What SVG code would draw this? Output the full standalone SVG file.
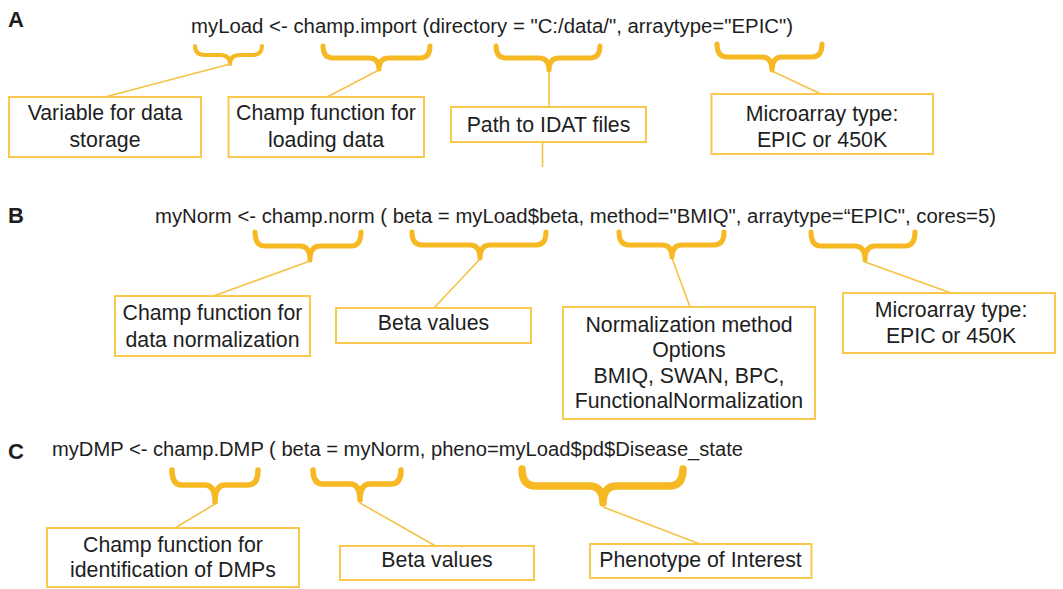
<svg xmlns="http://www.w3.org/2000/svg" width="1063" height="589" viewBox="0 0 1063 589">
<style>
text{font-family:"Liberation Sans",Arial,sans-serif;fill:#1e1e1e}
.code{font-size:20px}
.lbl{font-size:21.3px;text-anchor:middle}
.tag{font-size:22px;font-weight:bold}
.box{fill:#fff;stroke:#F8C94C;stroke-width:2}
.brace{fill:none;stroke:#F6B923;stroke-width:5;stroke-linecap:round;stroke-linejoin:round}
.conn line{stroke:#F5C344;stroke-width:1.6}
</style>
<rect width="1063" height="589" fill="#fff"/>
<g id="labels">
<text class="tag" x="8" y="27">A</text>
<text class="tag" x="8" y="223">B</text>
<text class="tag" x="8" y="459">C</text>
</g>
<g id="code">
<text class="code" x="191" y="33" textLength="602" lengthAdjust="spacingAndGlyphs">myLoad &lt;- champ.import (directory = "C:/data/", arraytype="EPIC")</text>
<text class="code" x="155" y="223" textLength="841" lengthAdjust="spacingAndGlyphs">myNorm &lt;- champ.norm ( beta = myLoad$beta, method="BMIQ", arraytype=“EPIC", cores=5)</text>
<text class="code" x="52" y="456" textLength="691" lengthAdjust="spacingAndGlyphs">myDMP &lt;- champ.DMP ( beta = myNorm, pheno=myLoad$pd$Disease_state</text>
</g>
<g id="braces">
<path class="brace" style="stroke-width:4" d="M195,46 Q195,55 205,55 L220,55 Q230,55 230,64 Q230,55 240,55 L252,55 Q262,55 262,46"/>
<path class="brace" d="M323,46 Q323,58 333,58 L369,58 Q379,58 379,69 Q379,58 389,58 L420,58 Q430,58 430,46"/>
<path class="brace" d="M496,46 Q496,58 506,58 L539,58 Q549,58 549,70 Q549,58 559,58 L590,58 Q600,58 600,46"/>
<path class="brace" d="M717,44 Q717,57 727,57 L762,57 Q772,57 772,70 Q772,57 782,57 L812,57 Q822,57 822,44"/>
<path class="brace" d="M255,232 Q255,246 265,246 L300,246 Q310,246 310,260 Q310,246 320,246 L351,246 Q361,246 361,232"/>
<path class="brace" d="M412,232 Q412,245 422,245 L470,245 Q480,245 480,258 Q480,245 490,245 L536,245 Q546,245 546,232"/>
<path class="brace" d="M619,232 Q619,245 629,245 L662,245 Q672,245 672,257 Q672,245 682,245 L714,245 Q724,245 724,232"/>
<path class="brace" d="M811,232 Q811,246 821,246 L855,246 Q865,246 865,260 Q865,246 875,246 L905,246 Q915,246 915,232"/>
<path class="brace" style="stroke-width:5.5" d="M172,470 Q172,485 182,485 L205,485 Q215,485 215,502 Q215,485 225,485 L248,485 Q258,485 258,470"/>
<path class="brace" style="stroke-width:5.5" d="M313,470 Q313,484 323,484 L350,484 Q360,484 360,500 Q360,484 370,484 L391,484 Q401,484 401,470"/>
<path class="brace" style="stroke-width:7.5" d="M522,469 Q522,486 536,486 L589,486 Q603,486 603,503 Q603,486 617,486 L669,486 Q683,486 683,469"/>
</g>
<g class="conn" id="connectors">
<line x1="230" y1="64" x2="105" y2="97"/>
<line x1="379" y1="70" x2="327" y2="97"/>
<line x1="549" y1="71" x2="549" y2="107"/>
<line x1="542.5" y1="130" x2="542.5" y2="167"/>
<line x1="772" y1="71" x2="821" y2="94"/>
<line x1="310" y1="261" x2="213.5" y2="296"/>
<line x1="480" y1="259" x2="434" y2="308"/>
<line x1="672" y1="258" x2="690" y2="307"/>
<line x1="865" y1="262" x2="951" y2="293"/>
<line x1="215" y1="504" x2="175" y2="528"/>
<line x1="360" y1="503" x2="435.6" y2="546"/>
<line x1="603" y1="507" x2="700" y2="544"/>
</g>
<g id="nodeA1"><rect class="box" x="9" y="97" width="192" height="60"/><text class="lbl" x="105" y="120">Variable for data</text><text class="lbl" x="105" y="146.5">storage</text></g>
<g id="nodeA2"><rect class="box" x="228.5" y="97" width="195.5" height="60"/><text class="lbl" x="326" y="120">Champ function for</text><text class="lbl" x="326" y="146.5">loading data</text></g>
<g id="nodeA3"><rect class="box" x="451" y="107" width="195" height="35"/><text class="lbl" x="548.5" y="131.5">Path to IDAT files</text></g>
<g id="nodeA4"><rect class="box" x="711.5" y="94" width="221.5" height="60"/><text class="lbl" x="822" y="120.5">Microarray type:</text><text class="lbl" x="822" y="146.5">EPIC or 450K</text></g>
<g id="nodeB1"><rect class="box" x="115" y="296" width="195" height="60"/><text class="lbl" x="212.5" y="320">Champ function for</text><text class="lbl" x="212.5" y="346.5">data normalization</text></g>
<g id="nodeB2"><rect class="box" x="336" y="308" width="195" height="35"/><text class="lbl" x="433.5" y="330">Beta values</text></g>
<g id="nodeB3"><rect class="box" x="563" y="307" width="252" height="112"/><text class="lbl" x="689" y="331.5">Normalization method</text><text class="lbl" x="689" y="356.5">Options</text><text class="lbl" x="689" y="382.5">BMIQ, SWAN, BPC,</text><text class="lbl" x="689" y="408">FunctionalNormalization</text></g>
<g id="nodeB4"><rect class="box" x="843" y="293" width="212" height="60"/><text class="lbl" x="951" y="316.5">Microarray type:</text><text class="lbl" x="951" y="342.5">EPIC or 450K</text></g>
<g id="nodeC1"><rect class="box" x="47" y="528" width="252" height="59"/><text class="lbl" x="173" y="552">Champ function for</text><text class="lbl" x="173" y="577">identification of DMPs</text></g>
<g id="nodeC2"><rect class="box" x="340" y="546" width="194" height="34"/><text class="lbl" x="437" y="567">Beta values</text></g>
<g id="nodeC3"><rect class="box" x="590" y="544" width="221.5" height="34"/><text class="lbl" x="700.5" y="567">Phenotype of Interest</text></g>
</svg>
